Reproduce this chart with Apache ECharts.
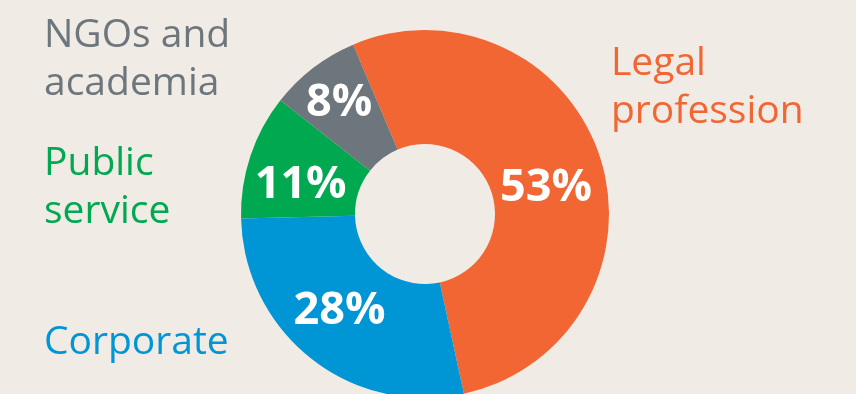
<!DOCTYPE html>
<html><head><meta charset="utf-8">
<script src="https://cdn.jsdelivr.net/npm/echarts@6/dist/echarts.min.js"></script>
<style>html,body{margin:0;padding:0;background:#f0ebe5;}#c{width:856px;height:394px;}</style>
</head><body><div id="c"></div>
<script>
const categories = ["Legal\nprofession", "Corporate", "Public\nservice", "NGOs and\nacademia"];
const values = [53, 28, 11, 8];
const colors = ["#f26633", "#0096d6", "#00a94f", "#6c767c"];
const labelOffsets = [[-3, 13], [-5, -5], [-1, 12], [-7, -8]];
const outerLabelPos = [[611, 48], [44, 327], [44, 148], [44, 20]];

const chart = echarts.init(document.getElementById('c'));
const font = '"Open Sans", sans-serif';
chart.setOption({
  backgroundColor: '#f0ebe5',
  animation: false,
  series: [{
    type: 'pie',
    center: [425, 214],
    radius: [70, 184],
    startAngle: 113,
    clockwise: true,
    silent: true,
    label: {
      show: true, position: 'inside', formatter: '{c}%',
      color: '#ffffff', fontFamily: font, fontWeight: 'bold', fontSize: 45
    },
    labelLine: { show: false },
    itemStyle: { borderWidth: 0 },
    data: values.map((v, i) => ({
      value: v, name: categories[i],
      itemStyle: { color: colors[i] },
      label: { offset: labelOffsets[i] }
    }))
  }],
  graphic: categories.map((name, i) => ({
    type: 'text', left: outerLabelPos[i][0], top: outerLabelPos[i][1] - 8,
    style: { text: name, fill: colors[i], font: '39px ' + font, lineHeight: 48 }
  }))
});
</script></body></html>
